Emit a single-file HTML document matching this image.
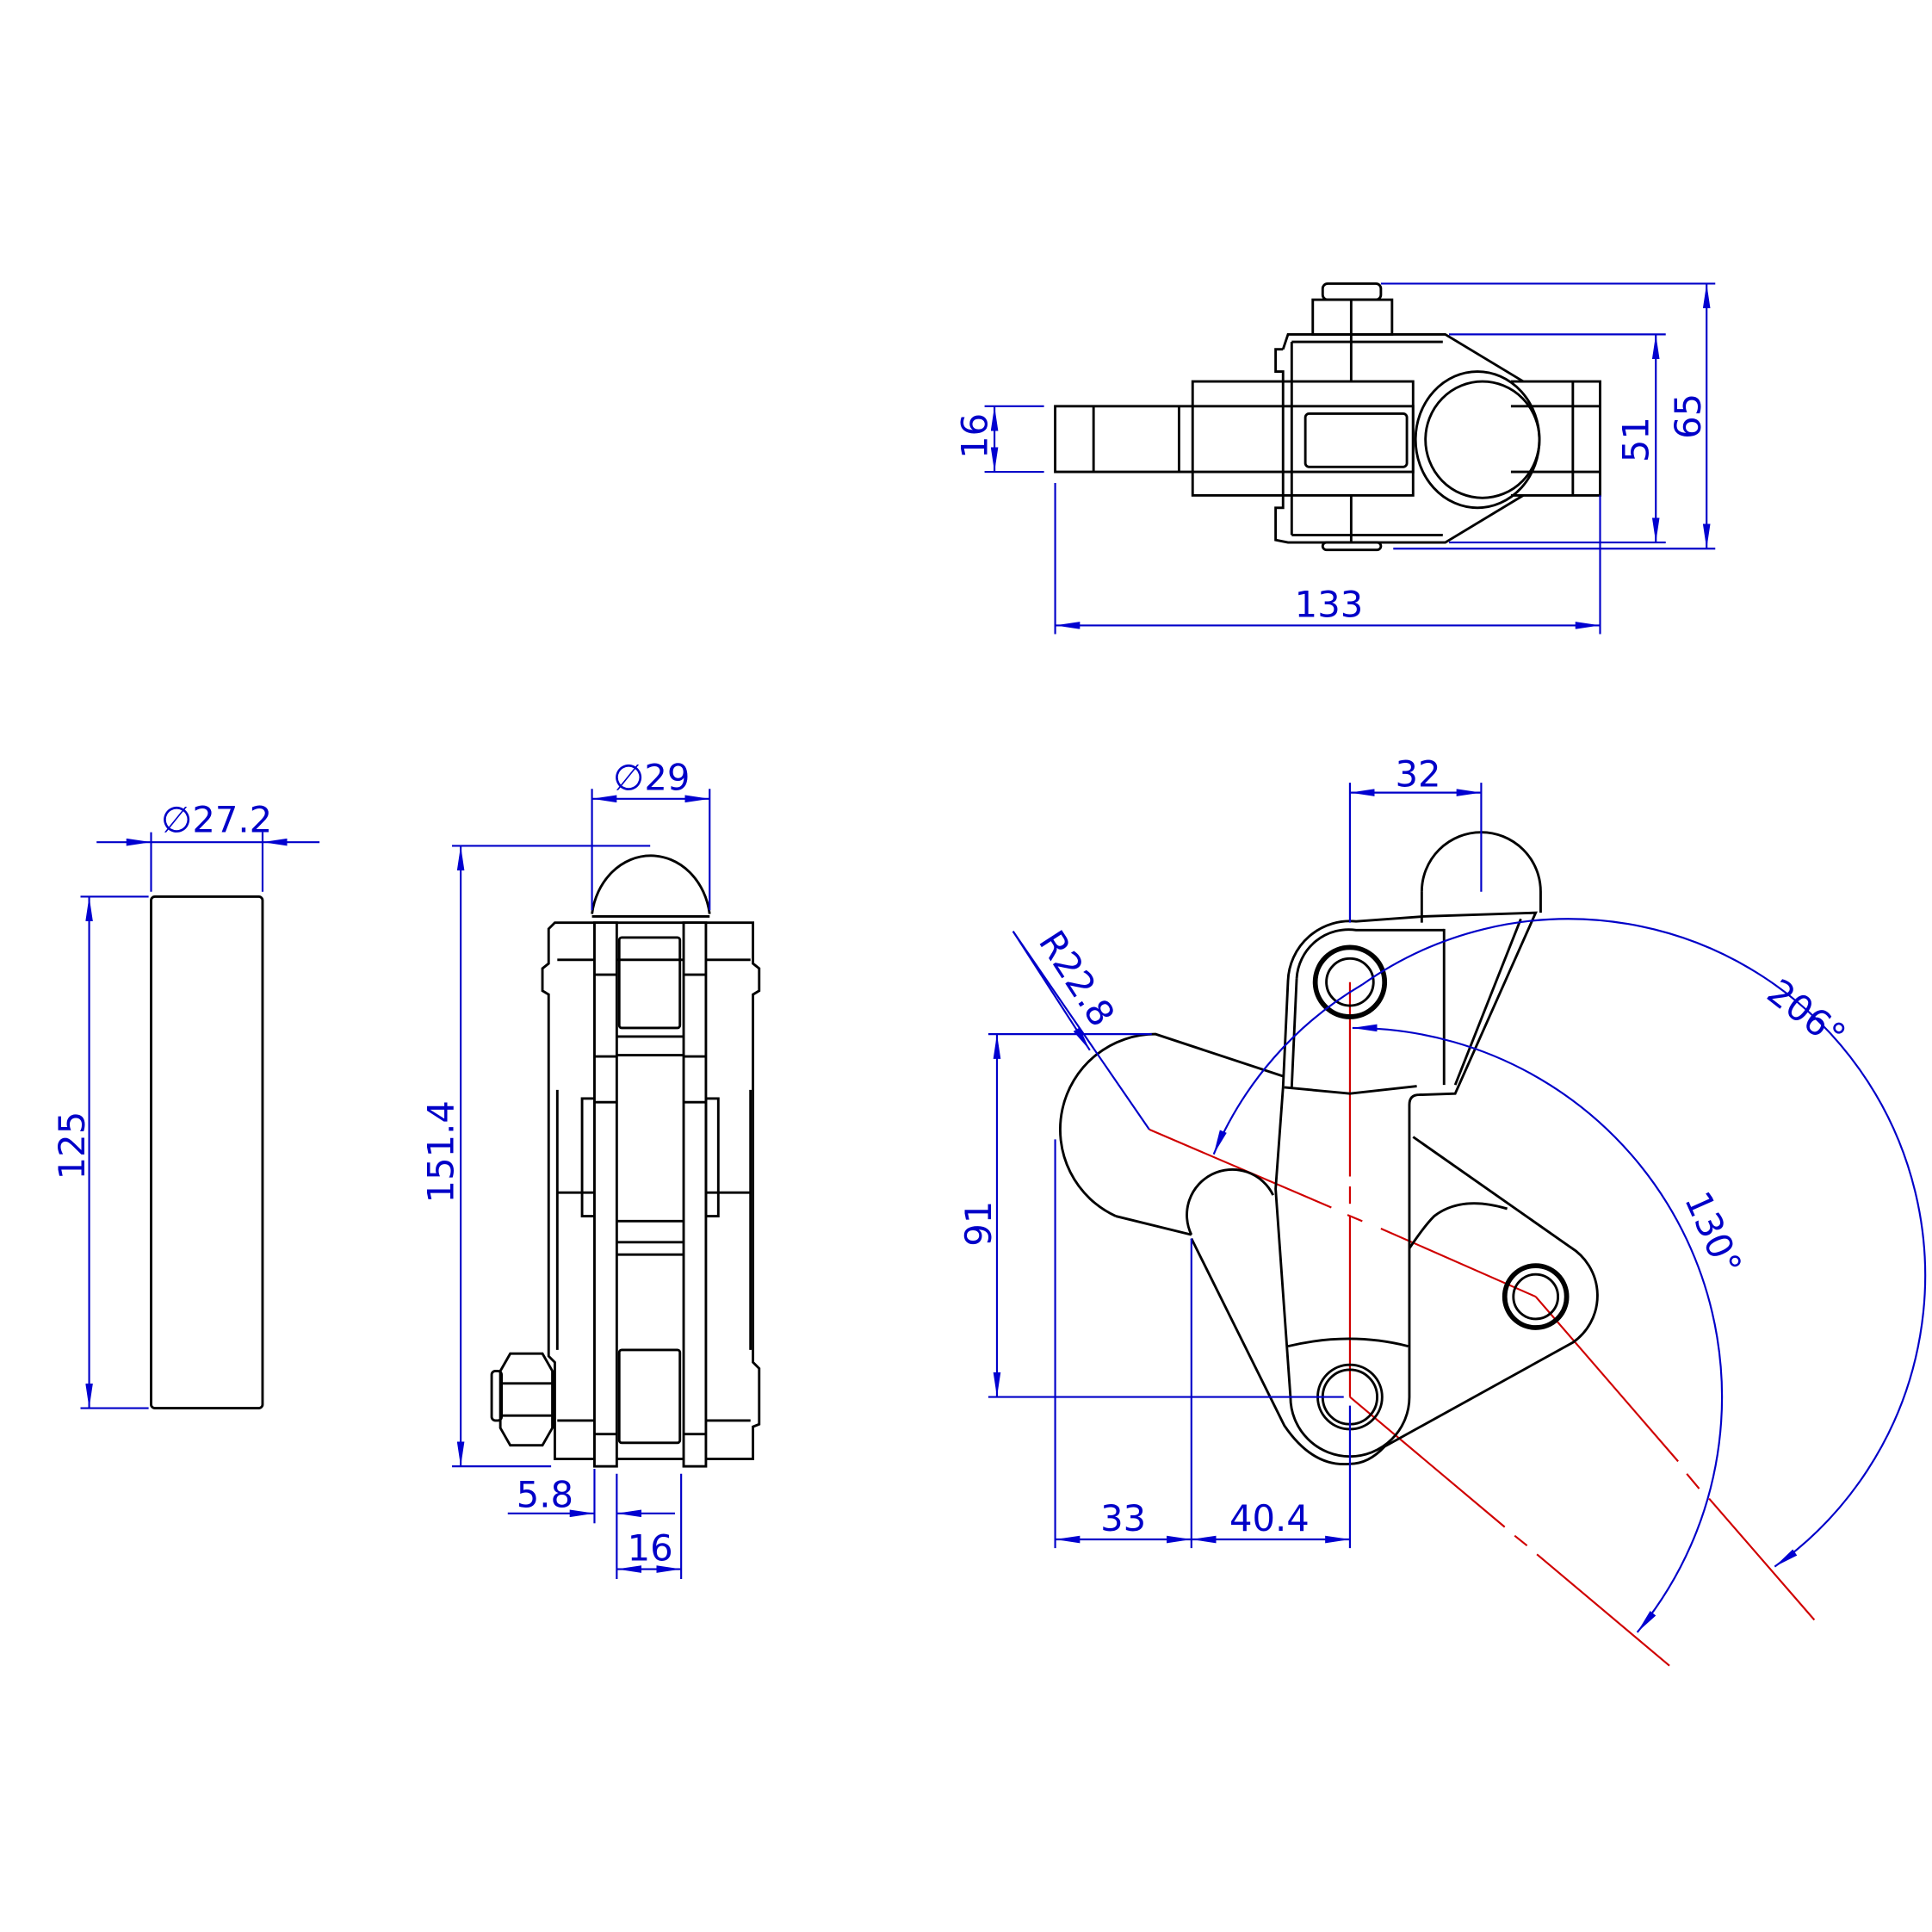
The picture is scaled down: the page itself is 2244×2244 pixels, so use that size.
<!DOCTYPE html>
<html><head><meta charset="utf-8"><style>html,body{margin:0;padding:0;background:#fff}svg{display:block}</style></head>
<body>
<svg width="2244" height="2244" viewBox="0 0 1560 1560" xmlns="http://www.w3.org/2000/svg">
<defs>
<marker id="a" viewBox="0 0 20 6" refX="20" refY="3" markerWidth="20" markerHeight="6" orient="auto-start-reverse" markerUnits="userSpaceOnUse"><path d="M0,0 L20,3 L0,6 z" fill="#0000d0"/></marker>
</defs>
<g font-family="'DejaVu Sans','Liberation Sans',sans-serif" font-size="29" fill="#0000c8">
<!-- TOP VIEW -->
<g stroke="#000" stroke-width="2" fill="none">
<rect x="852" y="328" width="289" height="53"/>
<line x1="883" y1="328" x2="883" y2="381"/><line x1="952" y1="328" x2="952" y2="381"/>
<rect x="963" y="308" width="178" height="92"/>
<rect x="1054" y="334" width="82" height="43" rx="3"/>
<path d="M1036,282 L1030,282 L1030,300 L1036,300 L1036,410 L1030,410 L1030,436 L1040,438 L1167,438 L1230,400 M1036,282 L1040,270 L1167,270 L1230,308"/>
<line x1="1043" y1="276" x2="1043" y2="432"/><line x1="1043" y1="276" x2="1165" y2="276"/><line x1="1043" y1="432" x2="1165" y2="432"/>
<line x1="1091" y1="270" x2="1091" y2="308"/><line x1="1091" y1="400" x2="1091" y2="438"/>
<ellipse cx="1193" cy="355" rx="50" ry="55"/>
<ellipse cx="1197" cy="355" rx="46" ry="47"/>
<path d="M1220,308 L1292,308 L1292,400 L1220,400 M1220,328 L1292,328 M1220,381 L1292,381 M1270,308 L1270,400"/>
<rect x="1060" y="242" width="64" height="28"/>
<line x1="1091" y1="242" x2="1091" y2="270"/>
<rect x="1068" y="229" width="47" height="13" rx="4"/>
<rect x="1068" y="438" width="47" height="6" rx="3"/>
</g>
<g stroke="#0000c8" stroke-width="1.5" fill="none">
<line x1="1115" y1="229" x2="1385" y2="229"/><line x1="1125" y1="443" x2="1385" y2="443"/>
<line x1="1378" y1="229" x2="1378" y2="443" marker-start="url(#a)" marker-end="url(#a)"/>
<line x1="1170" y1="270" x2="1345" y2="270"/><line x1="1170" y1="438" x2="1345" y2="438"/>
<line x1="1337" y1="270" x2="1337" y2="438" marker-start="url(#a)" marker-end="url(#a)"/>
<line x1="795" y1="328" x2="843" y2="328"/><line x1="795" y1="381" x2="843" y2="381"/>
<line x1="803" y1="328" x2="803" y2="381" marker-start="url(#a)" marker-end="url(#a)"/>
<line x1="852" y1="390" x2="852" y2="512"/><line x1="1292" y1="400" x2="1292" y2="512"/>
<line x1="852" y1="505" x2="1292" y2="505" marker-start="url(#a)" marker-end="url(#a)"/>
</g>
<text x="1073" y="498" text-anchor="middle">133</text>
<text transform="translate(1373,336) rotate(-90)" text-anchor="middle">65</text>
<text transform="translate(1331,355) rotate(-90)" text-anchor="middle">51</text>
<text transform="translate(797,352) rotate(-90)" text-anchor="middle">16</text>

<!-- LEFT CYLINDER -->
<rect x="122" y="724" width="90" height="413" rx="3" stroke="#000" stroke-width="2" fill="none"/>
<g stroke="#0000c8" stroke-width="1.5" fill="none">
<line x1="65" y1="724" x2="120" y2="724"/><line x1="65" y1="1137" x2="120" y2="1137"/>
<line x1="72" y1="724" x2="72" y2="1137" marker-start="url(#a)" marker-end="url(#a)"/>
<line x1="122" y1="672" x2="122" y2="720"/><line x1="212" y1="672" x2="212" y2="720"/>
<line x1="78" y1="680" x2="122" y2="680" marker-end="url(#a)"/>
<line x1="258" y1="680" x2="212" y2="680" marker-end="url(#a)"/>
<line x1="122" y1="680" x2="212" y2="680"/>
</g>
<text x="130" y="672">∅27.2</text>
<text transform="translate(68,925) rotate(-90)" text-anchor="middle">125</text>

<!-- MIDDLE VIEW -->
<g stroke="#000" stroke-width="2" fill="none">
<path d="M478,738 A48,55 0 0 1 573,738"/>
<line x1="478" y1="740" x2="573" y2="740"/>
<path d="M448,745 L608,745 L608,778 L613,782 L613,800 L608,803 L608,1100 L613,1105 L613,1150 L608,1152 L608,1178 L448,1178 L448,1100 L443,1095 L443,803 L438,800 L438,782 L443,778 L443,750 Z"/>
<line x1="450" y1="775" x2="606" y2="775"/>
<line x1="450" y1="880" x2="450" y2="1090"/><line x1="606" y1="880" x2="606" y2="1090"/>
<line x1="450" y1="963" x2="480" y2="963"/><line x1="570" y1="963" x2="606" y2="963"/>
<line x1="450" y1="1147" x2="480" y2="1147"/><line x1="570" y1="1147" x2="606" y2="1147"/>
<rect x="470" y="887" width="10" height="95"/><rect x="570" y="887" width="10" height="95"/>
<rect x="480" y="745" width="18" height="439" fill="#fff"/>
<rect x="552" y="745" width="18" height="439" fill="#fff"/>
<line x1="480" y1="787" x2="498" y2="787"/><line x1="552" y1="787" x2="570" y2="787"/>
<line x1="480" y1="853" x2="498" y2="853"/><line x1="552" y1="853" x2="570" y2="853"/>
<line x1="480" y1="890" x2="498" y2="890"/><line x1="552" y1="890" x2="570" y2="890"/>
<line x1="480" y1="1158" x2="498" y2="1158"/><line x1="552" y1="1158" x2="570" y2="1158"/>
<rect x="500" y="757" width="49" height="73" rx="2"/>
<line x1="498" y1="837" x2="552" y2="837"/><line x1="498" y1="852" x2="552" y2="852"/>
<line x1="498" y1="986" x2="552" y2="986"/><line x1="498" y1="1003" x2="552" y2="1003"/><line x1="498" y1="1013" x2="552" y2="1013"/>
<rect x="500" y="1090" width="49" height="75" rx="2"/>
<path d="M404,1107 L412,1093 L438,1093 L446,1107 L446,1153 L438,1167 L412,1167 L404,1153 Z"/>
<line x1="404" y1="1117" x2="446" y2="1117"/><line x1="404" y1="1143" x2="446" y2="1143"/>
<rect x="397" y="1107" width="8" height="40" rx="3"/>
</g>
<g stroke="#0000c8" stroke-width="1.5" fill="none">
<line x1="365" y1="683" x2="525" y2="683"/><line x1="365" y1="1184" x2="445" y2="1184"/>
<line x1="372" y1="683" x2="372" y2="1184" marker-start="url(#a)" marker-end="url(#a)"/>
<line x1="478" y1="637" x2="478" y2="735"/><line x1="573" y1="637" x2="573" y2="735"/>
<line x1="478" y1="645" x2="573" y2="645" marker-start="url(#a)" marker-end="url(#a)"/>
<line x1="480" y1="1186" x2="480" y2="1230"/>
<line x1="410" y1="1222" x2="480" y2="1222" marker-end="url(#a)"/>
<line x1="545" y1="1222" x2="498" y2="1222" marker-end="url(#a)"/>
<line x1="498" y1="1190" x2="498" y2="1275"/><line x1="550" y1="1190" x2="550" y2="1275"/>
<line x1="498" y1="1267" x2="550" y2="1267" marker-start="url(#a)" marker-end="url(#a)"/>
</g>
<text x="495" y="638">∅29</text>
<text x="440" y="1217" text-anchor="middle">5.8</text>
<text x="525" y="1260" text-anchor="middle">16</text>
<text transform="translate(366,930) rotate(-90)" text-anchor="middle">151.4</text>

<!-- RIGHT VIEW -->
<g stroke="#d00000" stroke-width="1.5" fill="none">
<line x1="928" y1="912" x2="1075" y2="975"/>
<line x1="1088" y1="981" x2="1100" y2="986"/>
<line x1="1115" y1="992" x2="1240" y2="1047"/>
<line x1="1240" y1="1047" x2="1355" y2="1180"/>
<line x1="1362" y1="1190" x2="1372" y2="1202"/>
<line x1="1380" y1="1210" x2="1465" y2="1308"/>
<line x1="1090" y1="793" x2="1090" y2="950"/>
<line x1="1090" y1="958" x2="1090" y2="972"/>
<line x1="1090" y1="982" x2="1090" y2="1128"/>
<line x1="1090" y1="1128" x2="1215" y2="1233"/>
<line x1="1223" y1="1240" x2="1233" y2="1248"/>
<line x1="1241" y1="1255" x2="1348" y2="1345"/>
</g>
<g stroke="#000" stroke-width="2" fill="none">
<path d="M901,982 A77,77 0 0 1 933,835 L1036,869"/>
<path d="M901,982 L962,997"/>
<path d="M962,997 A34,34 0 0 1 1028,965"/>
<path d="M962,1000 L1037,1151 Q1060,1185 1090,1182 Q1105,1182 1118,1168 L1270,1084 A46,46 0 0 0 1268,1007 L1141,918"/>
<path d="M1138,1008 Q1150,990 1158,982 Q1180,965 1217,976"/>
<path d="M1036,878 L1030,960 L1042,1128 A48,48 0 0 0 1138,1128 L1138,892 Q1138,884 1146,884 L1175,883 L1240,737 L1149,740 L1095,744 A50,50 0 0 0 1040,792 Z"/>
<path d="M1047,790 A42,42 0 0 1 1095,751 L1166,751"/>
<line x1="1047" y1="790" x2="1043" y2="878"/>
<line x1="1166" y1="750" x2="1166" y2="876"/>
<line x1="1228" y1="742" x2="1175" y2="876"/>
<path d="M1037,878 L1090,883 L1144,877"/>
<path d="M1040,1087 Q1090,1075 1137,1087"/>
<circle cx="1090" cy="793" r="28" stroke-width="4"/><circle cx="1090" cy="793" r="19"/>
<circle cx="1090" cy="1128" r="26"/><circle cx="1090" cy="1128" r="22"/>
<circle cx="1240" cy="1047" r="25" stroke-width="4"/><circle cx="1240" cy="1047" r="18"/>
<path d="M1148,720 A48,48 0 0 1 1244,720 L1244,737" />
<line x1="1148" y1="720" x2="1148" y2="745"/>
</g>
<g stroke="#0000c8" stroke-width="1.5" fill="none">
<line x1="1090" y1="632" x2="1090" y2="745"/><line x1="1196" y1="632" x2="1196" y2="720"/>
<line x1="1090" y1="640" x2="1196" y2="640" marker-start="url(#a)" marker-end="url(#a)"/>
<line x1="798" y1="835" x2="930" y2="835"/><line x1="798" y1="1128" x2="1085" y2="1128"/>
<line x1="805" y1="835" x2="805" y2="1128" marker-start="url(#a)" marker-end="url(#a)"/>
<line x1="852" y1="920" x2="852" y2="1250"/><line x1="962" y1="1000" x2="962" y2="1250"/><line x1="1090" y1="1135" x2="1090" y2="1250"/>
<line x1="852" y1="1243" x2="962" y2="1243" marker-start="url(#a)" marker-end="url(#a)"/>
<line x1="962" y1="1243" x2="1090" y2="1243" marker-start="url(#a)" marker-end="url(#a)"/>
<line x1="818" y1="752" x2="928" y2="912"/>
<line x1="818" y1="752" x2="880" y2="848" marker-end="url(#a)"/>
<path d="M1100,795 A288,288 0 1 1 1433,1265" marker-end="url(#a)"/>
<path d="M1100,795 A288,288 0 0 0 980,932" marker-end="url(#a)"/>
<path d="M1092,830 A298,298 0 0 1 1322,1318" marker-start="url(#a)" marker-end="url(#a)"/>
</g>
<text x="1145" y="635" text-anchor="middle">32</text>
<text x="907" y="1236" text-anchor="middle">33</text>
<text x="1025" y="1236" text-anchor="middle">40.4</text>
<text transform="translate(800,988) rotate(-90)" text-anchor="middle">91</text>
<text transform="translate(838,760) rotate(57)">R22.8</text>
<text transform="translate(1425,805) rotate(38)">206°</text>
<text transform="translate(1360,968) rotate(66)">130°</text>
</g>
</svg>
</body></html>
